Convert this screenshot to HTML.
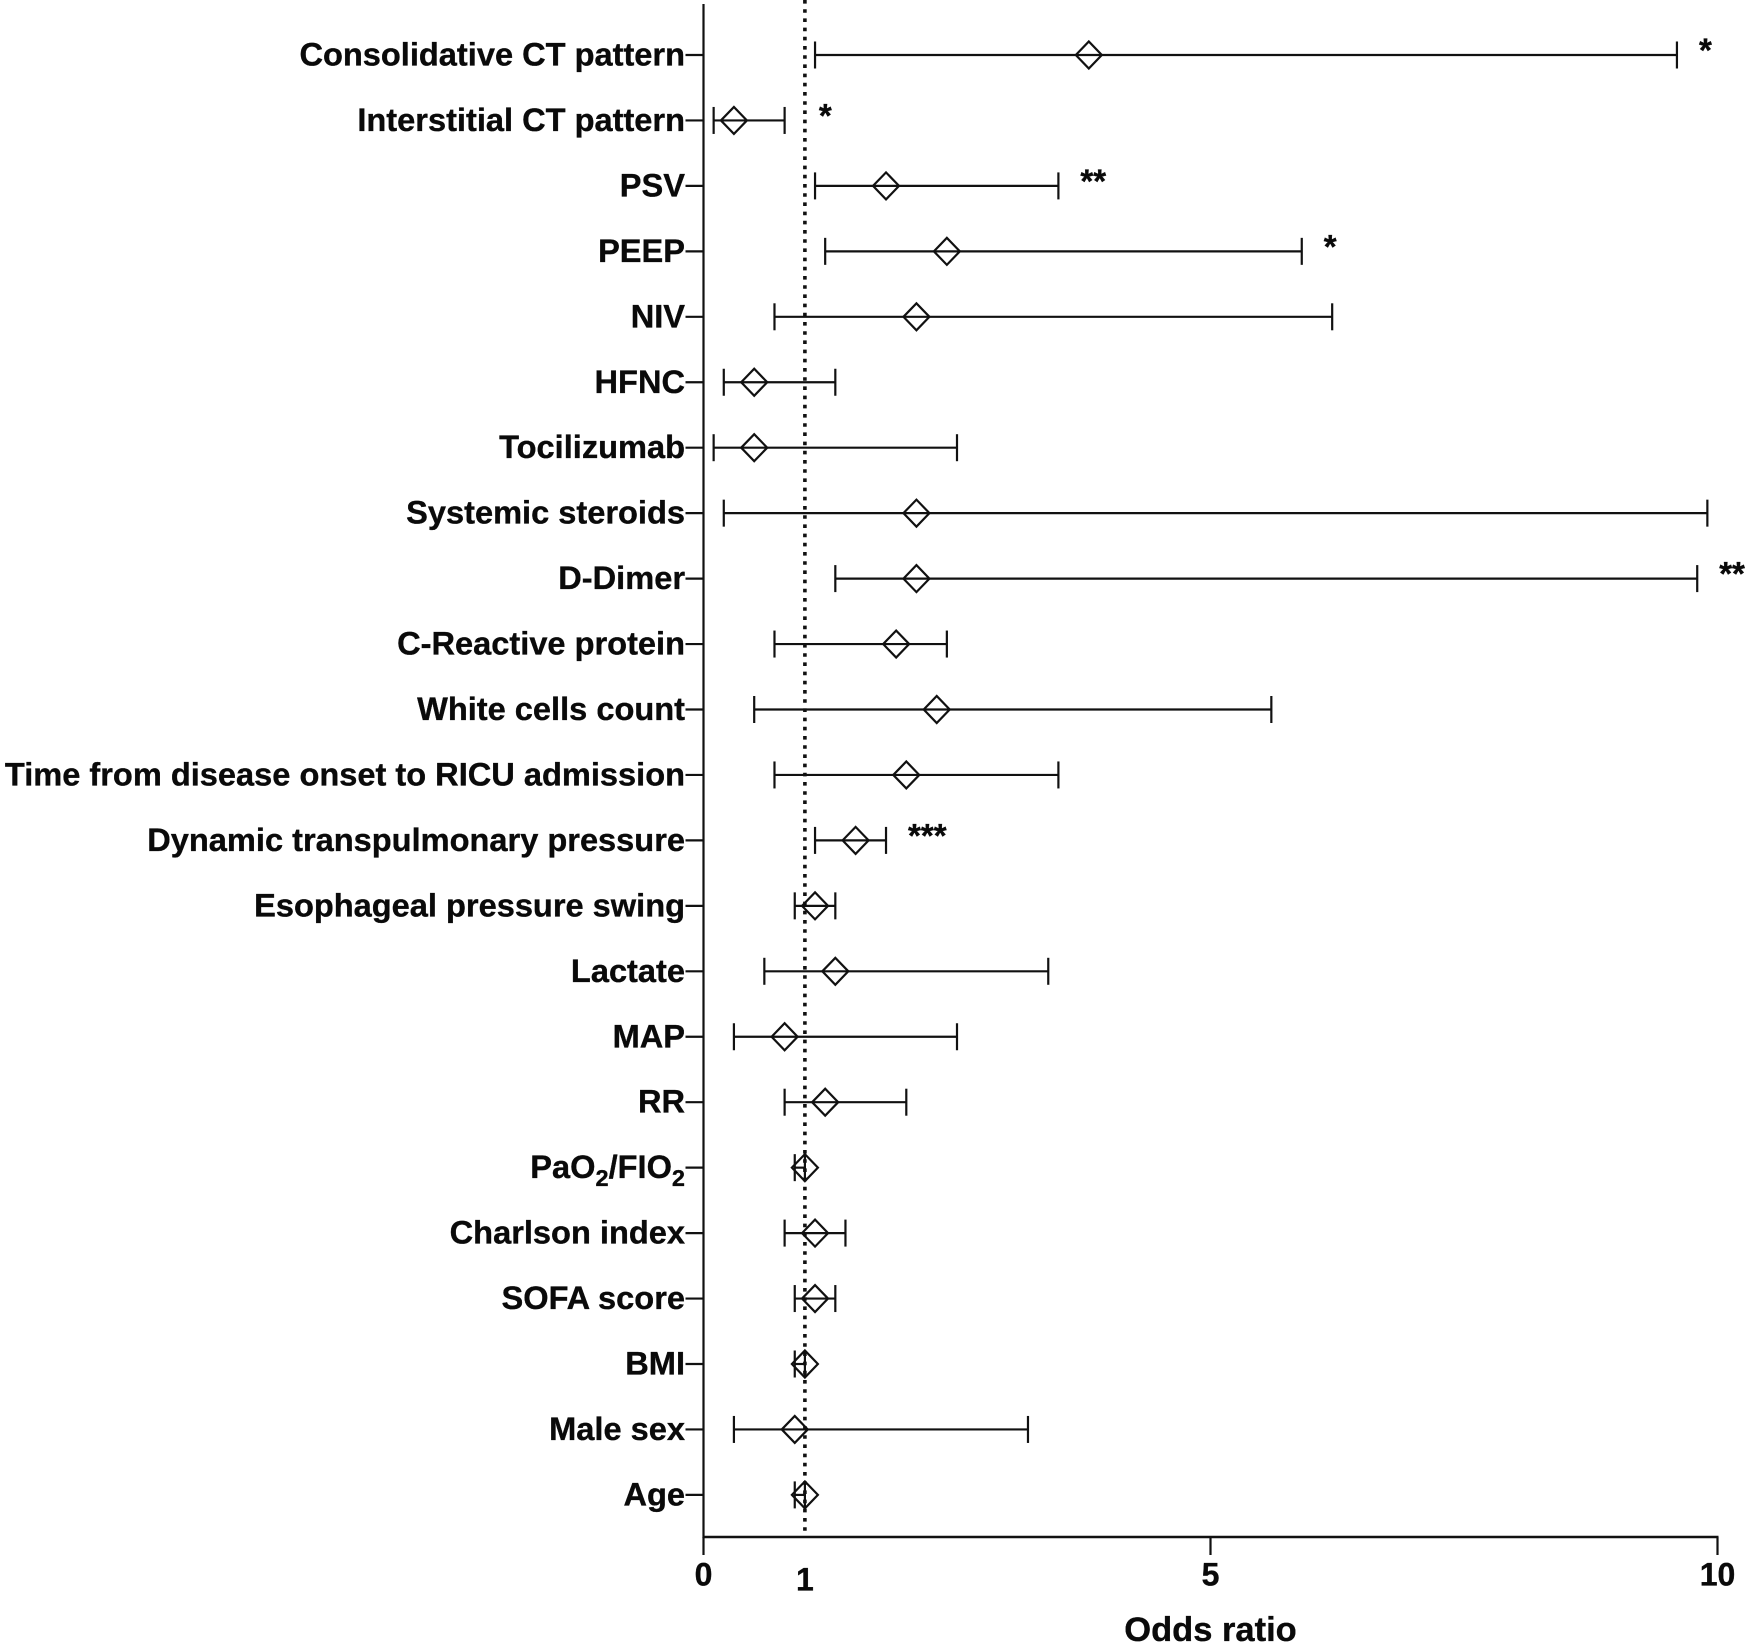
<!DOCTYPE html>
<html lang="en">
<head>
<meta charset="utf-8">
<title>Odds ratio forest plot</title>
<style>
  html, body { margin: 0; padding: 0; background: #fff; }
  svg { display: block; }
  text { font-family: "Liberation Sans", Arial, sans-serif; font-weight: 700; fill: #0a0a0a; stroke: #0a0a0a; stroke-width: 0.35px; }
</style>
</head>
<body>
<svg id="chart" xmlns="http://www.w3.org/2000/svg" width="1750" height="1647" viewBox="0 0 1750 1647">
  <rect width="1750" height="1647" fill="#fff"></rect>
</svg>
<script>
const categories = ['Consolidative CT pattern','Interstitial CT pattern','PSV','PEEP','NIV','HFNC','Tocilizumab','Systemic steroids','D-Dimer','C-Reactive protein','White cells count','Time from disease onset to RICU admission','Dynamic transpulmonary pressure','Esophageal pressure swing','Lactate','MAP','RR','PaO₂/FIO₂','Charlson index','SOFA score','BMI','Male sex','Age'];
const oddsRatio = [3.8,0.3,1.8,2.4,2.1,0.5,0.5,2.1,2.1,1.9,2.3,2.0,1.5,1.1,1.3,0.8,1.2,1.0,1.1,1.1,1.0,0.9,1.0];
const ciLow = [1.1,0.1,1.1,1.2,0.7,0.2,0.1,0.2,1.3,0.7,0.5,0.7,1.1,0.9,0.6,0.3,0.8,0.9,0.8,0.9,0.9,0.3,0.9];
const ciHigh = [9.6,0.8,3.5,5.9,6.2,1.3,2.5,9.9,9.8,2.4,5.6,3.5,1.8,1.3,3.4,2.5,2.0,1.0,1.4,1.3,1.0,3.2,1.0];
const significance = ['*','*','**','*','','','','','**','','','','***','','','','','','','','','',''];
const xTicks = [0,5,10];
const referenceValue = 1;
const xTitle = 'Odds ratio';

const svg = document.getElementById('chart');
const NS = 'http://www.w3.org/2000/svg';
const xScale = v => 703.5 + v * 101.4;
const yScale = i => 55 + i * 65.45;
const axisY = 1537;

function add(tag, attrs, parent) {
  const el = document.createElementNS(NS, tag);
  for (const k in attrs) el.setAttribute(k, attrs[k]);
  (parent || svg).appendChild(el);
  return el;
}

const yAxis = add('line', {x1: xScale(0), x2: xScale(0), y1: 4, y2: axisY + 1, stroke: '#111', 'stroke-width': 2.2});



const xAxis = add('line', {x1: xScale(0) - 1, x2: xScale(10) + 1, y1: axisY, y2: axisY, stroke: '#111', 'stroke-width': 2.4});



const refLine = add('line', {x1: xScale(referenceValue), x2: xScale(referenceValue), y1: 0, y2: axisY, stroke: '#111', 'stroke-width': 3.6, 'stroke-dasharray': '3.6 5.6'});



xTicks.forEach(t => {
  const tick = add('line', {x1: xScale(t), x2: xScale(t), y1: axisY, y2: axisY + 18, stroke: '#111', 'stroke-width': 2.2});
  
  
  const lab = add('text', {x: xScale(t), y: 1585.5, 'text-anchor': 'middle', 'font-size': 32});
  
  
  lab.textContent = t;
});

const refLabel = add('text', {x: xScale(referenceValue), y: 1590.5, 'text-anchor': 'middle', 'font-size': 32});


refLabel.textContent = referenceValue;

const title = add('text', {x: xScale(5), y: 1641, 'text-anchor': 'middle', 'font-size': 34.5});


title.textContent = xTitle;

categories.forEach((name, i) => {
  const y = yScale(i);
  const g = add('g', {});
  
  

  const tick = add('line', {x1: xScale(0) - 18, x2: xScale(0), y1: y, y2: y, stroke: '#111', 'stroke-width': 2.2}, g);
  
  

  const label = add('text', {x: 685, y: y + 10.5, 'text-anchor': 'end', 'font-size': 32.6}, g);
  
  
  name.split(/(₂)/).forEach(part => {
    if (!part) return;
    const span = add('tspan', {}, label);
    if (part === '₂') {
      span.setAttribute('font-size', '23.5');
      span.setAttribute('dy', '8');
      span.textContent = '2';
    } else {
      if (label.childNodes.length > 1) span.setAttribute('dy', '-8');
      span.textContent = part;
    }
  });

  const whisker = add('line', {x1: xScale(ciLow[i]), x2: xScale(ciHigh[i]), y1: y, y2: y, stroke: '#111', 'stroke-width': 2.2}, g);
  
  

  [ciLow[i], ciHigh[i]].forEach(v => {
    const cap = add('line', {x1: xScale(v), x2: xScale(v), y1: y - 13.5, y2: y + 13.5, stroke: '#111', 'stroke-width': 2.2}, g);
    
    
  });

  const cx = xScale(oddsRatio[i]);
  const marker = add('path', {d: `M${cx - 13} ${y}L${cx} ${y - 13.5}L${cx + 13} ${y}L${cx} ${y + 13.5}Z`, fill: 'none', stroke: '#111', 'stroke-width': 2.2}, g);
  
  

  if (significance[i]) {
    const starX = Math.max(xScale(ciHigh[i]) + 22, xScale(referenceValue) + 14);
    const star = add('text', {x: starX, y: y + 6.5, 'font-size': 33}, g);
    
    
    star.textContent = significance[i];
  }
});
</script>
</body>
</html>
